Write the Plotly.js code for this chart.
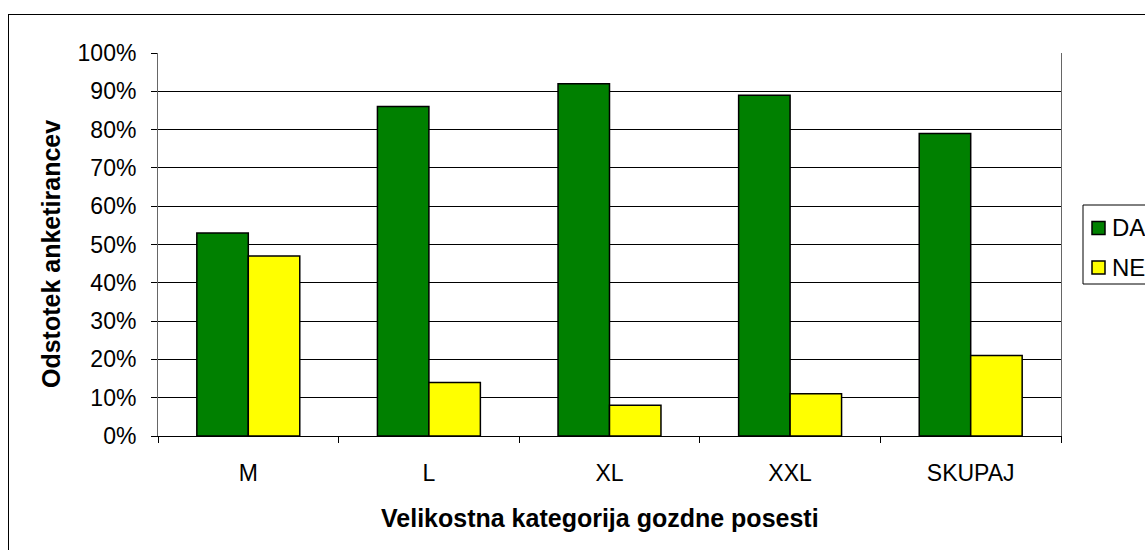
<!DOCTYPE html>
<html>
<head>
<meta charset="utf-8">
<script src="https://cdn.plot.ly/plotly-3.0.1.min.js"></script>
<style>
html,body{margin:0;padding:0;background:#fff;}
#wrap{position:relative;width:1145px;height:550px;overflow:hidden;}
#chart{width:1145px;height:550px;}
#frame{position:absolute;left:8px;top:14px;width:1300px;height:700px;border:1px solid #000;pointer-events:none;}
</style>
</head>
<body>
<div id="wrap"><div id="chart"></div><div id="frame"></div></div>
<script>
const categories = ["M", "L", "XL", "XXL", "SKUPAJ"];
const daValues = [0.53, 0.86, 0.92, 0.89, 0.79];
const neValues = [0.47, 0.14, 0.08, 0.11, 0.21];
const seriesNames = ["DA", "NE"];
const seriesColors = ["#008000", "#ffff00"];

const font = "Arial, 'Liberation Sans', sans-serif";
const W = 1145, H = 550, L = 158, R = 84, T = 53, B = 114;
const pw = W - L - R, ph = H - T - B;
const px = x => (x - L) / pw;
const py = y => (H - B - y) / ph;

const traces = [daValues, neValues].map((v, i) => ({
  type: "bar", x: categories, y: v, name: seriesNames[i],
  marker: {color: seriesColors[i], line: {color: "#000", width: 1.5}},
  showlegend: false, hoverinfo: "x+y"
}));

const shapes = [
  {type: "rect", xref: "paper", yref: "paper", x0: px(1083), x1: px(1160), y0: py(205), y1: py(284),
   line: {color: "#000", width: 1}, fillcolor: "#fff"}
];
const annotations = [
  {xref: "paper", yref: "paper", x: px(51), y: py(254), xanchor: "center", yanchor: "middle",
   text: "<b>Odstotek anketirancev</b>",
   textangle: -90, showarrow: false, font: {family: font, size: 25, color: "#000"}},
  {xref: "paper", yref: "paper", x: px(600), y: py(518), xanchor: "center", yanchor: "middle",
   text: "<b>Velikostna kategorija gozdne posesti</b>",
   showarrow: false, font: {family: font, size: 25, color: "#000"}}
];
seriesNames.forEach((n, i) => {
  const cy = 228 + i * 39.5;
  shapes.push({type: "rect", xref: "paper", yref: "paper", x0: px(1092), x1: px(1105), y0: py(cy - 6.5), y1: py(cy + 6.5),
    line: {color: "#000", width: 1.5}, fillcolor: seriesColors[i]});
  annotations.push({xref: "paper", yref: "paper", x: px(1110), y: py(cy), xanchor: "left", yanchor: "middle",
    text: n, showarrow: false, font: {family: font, size: 24, color: "#000"}});
});

const layout = {
  width: W, height: H,
  margin: {l: L, r: R, t: T, b: B, pad: 0},
  paper_bgcolor: "#fff", plot_bgcolor: "#fff",
  font: {family: font, size: 23, color: "#000"},
  barmode: "group", bargap: 0.43, bargroupgap: 0,
  xaxis: {
    type: "category", showline: true, linecolor: "#000", linewidth: 1,
    ticks: "outside", tickson: "boundaries", ticklen: 6, tickcolor: "#000",
    ticklabelstandoff: 16, showgrid: false, zeroline: false,
    tickfont: {family: font, size: 23, color: "#000"}
  },
  yaxis: {
    range: [0, 1], dtick: 0.1, tick0: 0, tickformat: ".0%",
    showline: true, mirror: true, linecolor: "#666", linewidth: 1,
    ticks: "outside", ticklen: 6, tickcolor: "#000",
    ticklabelstandoff: 10,
    showgrid: true, gridcolor: "#000", gridwidth: 1, zeroline: false,
    tickfont: {family: font, size: 23, color: "#000"}
  },
  shapes: shapes, annotations: annotations
};

Plotly.newPlot("chart", traces, layout, {displayModeBar: false, staticPlot: true});
</script>
</body>
</html>
